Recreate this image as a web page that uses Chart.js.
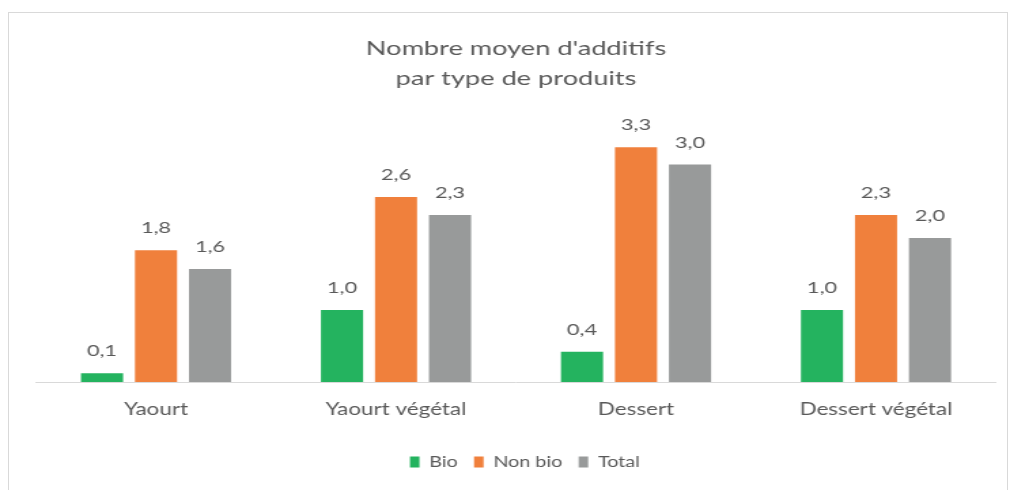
<!DOCTYPE html>
<html><head><meta charset="utf-8">
<script src="https://cdn.jsdelivr.net/npm/chart.js@4"></script>
<style>
html,body{margin:0;padding:0;background:#fff;overflow:hidden;}
#wrap{position:absolute;left:0;top:0;width:743px;height:490px;transform:scaleX(1.35935);transform-origin:0 0;}
#frame{position:absolute;left:8px;top:12px;width:1000px;height:490px;border-left:1px solid #d9d9d9;border-top:1px solid #d9d9d9;border-right:1px solid #d9d9d9;box-sizing:border-box;}
</style></head>
<body>
<div id="frame"></div>
<div id="wrap"><canvas id="c" width="743" height="490"></canvas></div>
<script>
const categories = ["Yaourt", "Yaourt végétal", "Dessert", "Dessert végétal"];
const bio = [0.12, 1.0, 0.42, 1.0];
const nonBio = [1.83, 2.57, 3.26, 2.32];
const total = [1.57, 2.32, 3.02, 2.0];
const seriesNames = ["Bio", "Non bio", "Total"];
const titleLines = ["Nombre moyen d'additifs", "par type de produits"];

const FONT = "Lato, 'Open Sans', sans-serif";
const TXT = "#595959";

const labelPlugin = {
  id: 'valLabels',
  afterDatasetsDraw(chart) {
    const ctx = chart.ctx;
    ctx.save();
    ctx.font = "16px " + FONT;
    ctx.fillStyle = TXT;
    ctx.textAlign = 'center';
    ctx.textBaseline = 'alphabetic';
    chart.data.datasets.forEach((ds, i) => {
      const meta = chart.getDatasetMeta(i);
      meta.data.forEach((bar, j) => {
        const v = ds.data[j];
        ctx.fillText(v.toFixed(1).replace('.', ','), bar.x, bar.y - 17);
      });
    });
    ctx.restore();
  }
};

const legendShift = {
  id: 'legendShift',
  afterLayout(chart) {
    chart.legend.left += 6.5;
    chart.legend.right += 6.5;
  }
};

new Chart(document.getElementById('c'), {
  type: 'bar',
  data: {
    labels: categories,
    datasets: [
      {label: seriesNames[0], data: bio, backgroundColor: '#24B35F'},
      {label: seriesNames[1], data: nonBio, backgroundColor: '#F0803C'},
      {label: seriesNames[2], data: total, backgroundColor: '#989A9A'}
    ]
  },
  options: {
    responsive: false,
    animation: false,
    devicePixelRatio: 1,
    layout: {padding: {left: 26.5, right: 10.3, top: 34, bottom: 10.75}},
    datasets: {bar: {categoryPercentage: 0.675, barPercentage: 0.78}},
    plugins: {
      title: {display: true, text: titleLines, color: TXT,
        font: {family: FONT, size: 20, weight: 'normal', lineHeight: 1.5},
        padding: {top: 0, bottom: 36}},
      legend: {position: 'bottom',
        labels: {color: TXT, font: {family: FONT, size: 14.5}, boxWidth: 7, boxHeight: 11, padding: 12}},
      tooltip: {enabled: false}
    },
    scales: {
      x: {grid: {display: false, drawTicks: false},
          border: {display: true, color: '#d9d9d9', width: 1},
          ticks: {color: TXT, font: {family: FONT, size: 16.5}, padding: 18},
          afterFit(scale) { scale.height = 60.75; }},
      y: {display: false, min: 0, max: 3.5}
    }
  },
  plugins: [labelPlugin, legendShift]
});
</script>
</body></html>
